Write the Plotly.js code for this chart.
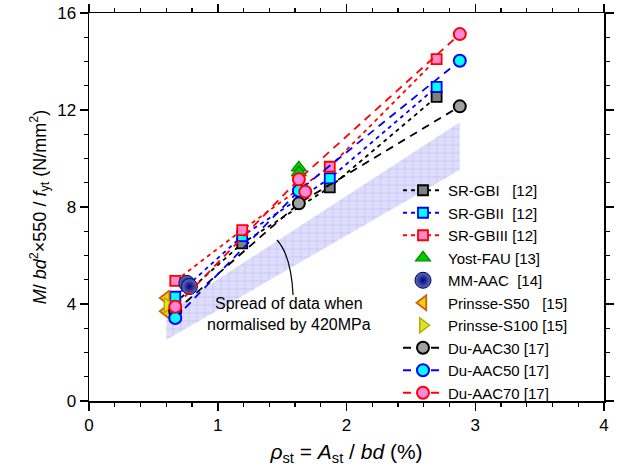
<!DOCTYPE html>
<html><head><meta charset="utf-8">
<script src="https://cdn.plot.ly/plotly-3.0.1.min.js"></script>
<style>html,body{margin:0;padding:0;background:#fff}#chart{width:619px;height:472px}</style>
</head><body><div id="chart"></div>
<script>
const FONT = 'Arial, "Liberation Sans", sans-serif';
// ---- data ----
const srGB1X = [0.67, 1.19, 1.87, 2.70];
const srGB1Y = [4.05, 6.50, 8.81, 12.54];
const srGB2X = [0.67, 1.19, 1.87, 2.70];
const srGB2Y = [4.30, 6.80, 9.18, 12.95];
const srGB3X = [0.67, 1.19, 1.87, 2.70];
const srGB3Y = [4.95, 7.05, 9.66, 14.10];
const yostX = [1.63, 1.63];
const yostY = [9.62, 9.42];
const mmX = [0.76, 0.78];
const mmY = [4.85, 4.72];
const ps50X = [0.60, 0.60];
const ps50Y = [4.25, 3.70];
const ps100X = [0.61];
const ps100Y = [3.95];
const du30X = [0.67, 1.63, 2.88];
const du30Y = [3.70, 8.15, 12.15];
const du50X = [0.67, 1.63, 2.88];
const du50Y = [3.42, 8.67, 14.03];
const du70X = [0.67, 1.63, 2.88];
const du70Y = [3.89, 9.14, 15.13];
const du70ExtraX = [1.68];
const du70ExtraY = [8.63];
const bandX = [0.60, 0.60, 2.88, 2.88];
const bandY = [2.52, 3.63, 11.50, 9.53];
const names = ['SR-GBI\u00a0\u00a0\u00a0[12]', 'SR-GBII\u00a0\u00a0[12]', 'SR-GBIII [12]', 'Yost-FAU [13]',
  'MM-AAC\u00a0\u00a0[14]', 'Prinsse-S50\u00a0\u00a0\u00a0[15]', 'Prinsse-S100 [15]',
  'Du-AAC30 [17]', 'Du-AAC50 [17]', 'Du-AAC70 [17]'];

const DOT = '4px,4px', DASH = '8px,6px';
function sq(x, y, name, lc, fc) {
  return {x, y, name, type: 'scatter', mode: 'lines+markers',
    line: {color: lc, width: 1.8, dash: DOT},
    marker: {symbol: 'square', size: 10, color: fc, line: {color: lc, width: 1.8}}};
}
function circ(x, y, name, lc, fc, showlegend = true, mode = 'lines+markers') {
  return {x, y, name, type: 'scatter', mode, showlegend,
    line: {color: lc, width: 1.8, dash: DASH},
    marker: {symbol: 'circle', size: 12, color: fc, line: {color: lc, width: 2}}};
}
const traces = [
  {x: bandX, y: bandY, type: 'scatter', mode: 'none', fill: 'toself', showlegend: false, hoverinfo: 'skip',
   fillcolor: '#dedefc', fillpattern: {shape: '+', bgcolor: '#dedefc', fgcolor: '#a8a8ec', size: 8, solidity: 0.1}},
  sq(srGB1X, srGB1Y, names[0], '#000000', '#808080'),
  sq(srGB2X, srGB2Y, names[1], '#0000ff', '#00ffff'),
  sq(srGB3X, srGB3Y, names[2], '#ff0000', '#ff88cc'),
  {x: yostX, y: yostY, name: names[3], type: 'scatter', mode: 'markers',
   marker: {symbol: 'triangle-up', size: 13, color: '#00cc00', line: {color: '#008800', width: 1.2}}},
  {x: mmX, y: mmY, name: names[4], type: 'scatter', mode: 'markers',
   marker: {symbol: 'circle', size: 16, color: '#6070c0', gradient: {type: 'radial', color: '#000078'}, line: {color: '#000050', width: 1}}},
  {x: ps50X, y: ps50Y, name: names[5], type: 'scatter', mode: 'markers',
   marker: {symbol: 'triangle-left', size: 13, color: '#f0d000', line: {color: '#d06010', width: 1.8}}},
  {x: ps100X, y: ps100Y, name: names[6], type: 'scatter', mode: 'markers',
   marker: {symbol: 'triangle-right', size: 13, color: '#e0e030', line: {color: '#b0b000', width: 1.5}}},
  circ(du30X, du30Y, names[7], '#000000', '#a0a0a0'),
  circ(du50X, du50Y, names[8], '#0000ff', '#00ffff'),
  circ(du70X, du70Y, names[9], '#ff0000', '#ff88dd'),
  circ(du70ExtraX, du70ExtraY, names[9], '#ff0000', '#ff88dd', false, 'markers')
];

const axisCommon = {
  showgrid: false, zeroline: false, showline: true, linecolor: '#000', linewidth: 1.5,
  mirror: 'ticks', ticks: 'outside', ticklen: 8, tickwidth: 1.5, tickcolor: '#000',
  tickfont: {family: FONT, size: 17, color: '#000'},
  automargin: false
};
const layout = {
  width: 619, height: 472,
  margin: {l: 89, r: 15, t: 13, b: 71},
  paper_bgcolor: '#fff', plot_bgcolor: '#fff',
  font: {family: FONT, color: '#000'},
  showlegend: true,
  xaxis: Object.assign({}, axisCommon, {
    range: [0, 4], tickvals: [0, 1, 2, 3, 4], ticktext: ['0', '1', '2', '3', '4'],
    minor: {dtick: 0.2, ticks: 'outside', ticklen: 4, tickwidth: 1.2, tickcolor: '#000', showgrid: false},
    title: {text: '<i>ρ</i><sub>st</sub> = <i>A</i><sub>st</sub> / <i>bd</i> (%)', font: {family: FONT, size: 21}, standoff: 10}
  }),
  yaxis: Object.assign({}, axisCommon, {
    range: [0, 16], tickvals: [0, 4, 8, 12, 16], ticktext: ['0', '4', '8', '12', '16'],
    minor: {dtick: 1, ticks: 'outside', ticklen: 4, tickwidth: 1.2, tickcolor: '#000', showgrid: false},
    title: {text: '<i>M</i>/ <i>bd</i><sup>2</sup>×550 / <i>f</i><sub>yt</sub> (N/mm<sup>2</sup>)', font: {family: FONT, size: 18}, standoff: 6}
  }),
  legend: {x: 0.60, y: 0.585, xanchor: 'left', yanchor: 'top', bgcolor: 'rgba(0,0,0,0)',
    font: {family: FONT, size: 15, color: '#000'}, tracegroupgap: 0, itemwidth: 40},
  annotations: [{
    xref: 'x', yref: 'y', x: 1.55, y: 3.6, showarrow: false,
    text: 'Spread of data when<br>normalised by 420MPa', align: 'center',
    font: {family: FONT, size: 16, color: '#000'}
  }],
  shapes: [{
    type: 'path', xref: 'x', yref: 'y',
    path: 'M 1.585,4.37 Q 1.57,6.0 1.46,6.64',
    line: {color: '#000', width: 1.2}
  }]
};
Plotly.newPlot('chart', traces, layout, {staticPlot: true, displayModeBar: false});
</script>
</body></html>
